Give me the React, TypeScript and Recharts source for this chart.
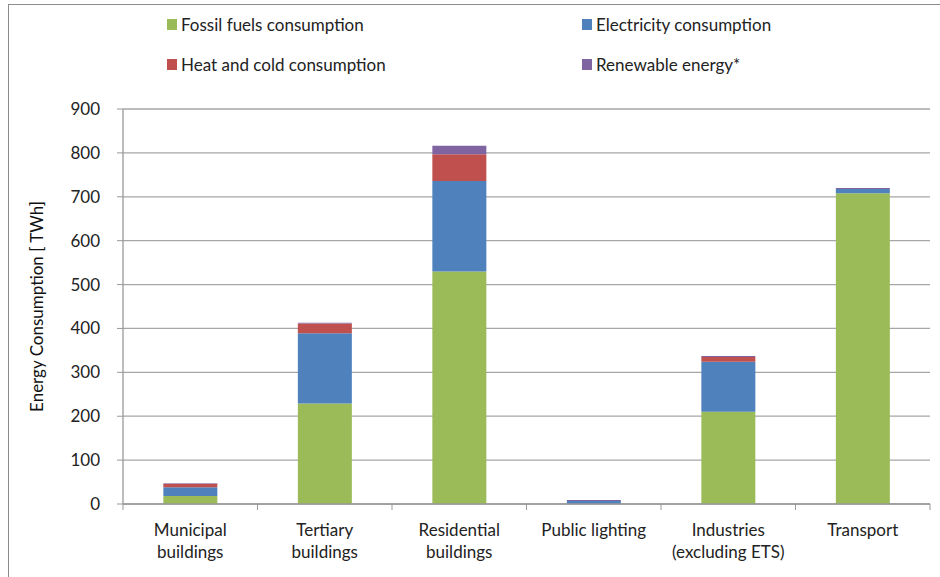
import React from "react";
import { BarChart, Bar, XAxis, YAxis, CartesianGrid } from "recharts";

const categories = [
  "Municipal\nbuildings",
  "Tertiary\nbuildings",
  "Residential\nbuildings",
  "Public lighting",
  "Industries\n(excluding ETS)",
  "Transport",
];
const fossil = [18, 229, 530, 0, 210, 708];
const electricity = [20, 160, 206, 7, 114, 10];
const heatCold = [8, 22, 61, 0, 11, 0];
const renewable = [1, 2, 19, 2, 2, 2];
const yTicks = [0, 100, 200, 300, 400, 500, 600, 700, 800, 900];

const seriesInfo = [
  { key: "fossil", name: "Fossil fuels consumption", color: "#9BBB59" },
  { key: "electricity", name: "Electricity consumption", color: "#4F81BD" },
  { key: "heat", name: "Heat and cold consumption", color: "#C0504D" },
  { key: "renew", name: "Renewable energy*", color: "#8064A2" },
];

const data = categories.map((c, i) => ({
  category: c,
  fossil: fossil[i],
  electricity: electricity[i],
  heat: heatCold[i],
  renew: renewable[i],
}));

const FONT = "Lato, 'Open Sans', sans-serif";
const W = 940;
const H = 577;
const PLOT_LEFT = 123;
const PLOT_RIGHT = 930;
const BAND = (PLOT_RIGHT - PLOT_LEFT) / categories.length;

const XTick = (props: any) => {
  const { x, y, payload, index } = props;
  const lines = String(payload.value).split("\n");
  return (
    <g>
      <line x1={x - BAND / 2} x2={x - BAND / 2} y1={y - 8} y2={y - 2} stroke="#999" />
      {index === categories.length - 1 && (
        <line x1={x + BAND / 2} x2={x + BAND / 2} y1={y - 8} y2={y - 2} stroke="#999" />
      )}
      <text x={x} y={y + 24} textAnchor="middle" fontSize={17} fill="#222" fontFamily={FONT}>
        {lines.map((l: string, i: number) => (
          <tspan key={i} x={x} dy={i === 0 ? 0 : 22}>
            {l}
          </tspan>
        ))}
      </text>
    </g>
  );
};

const legendPos = [
  { left: 167, top: 14 },
  { left: 582, top: 14 },
  { left: 167, top: 54 },
  { left: 582, top: 54 },
];

export default function App() {
  return (
    <div style={{ position: "absolute", left: 0, top: 0, width: W, height: H, background: "#fff", overflow: "hidden" }}>
      <div
        style={{
          position: "absolute",
          left: 8,
          top: 4,
          width: W,
          height: H,
          border: "1.5px solid #8c8c8c",
          boxSizing: "border-box",
        }}
      />
      {seriesInfo.map((s, i) => (
        <div
          key={s.key}
          style={{
            position: "absolute",
            left: legendPos[i].left,
            top: legendPos[i].top,
            display: "flex",
            alignItems: "center",
            fontFamily: FONT,
            fontSize: 17,
            color: "#222",
            whiteSpace: "nowrap",
            zIndex: 2,
          }}
        >
          <span style={{ display: "inline-block", width: 10, height: 11, background: s.color, marginRight: 4 }} />
          {s.name}
        </div>
      ))}
      <BarChart
        width={W}
        height={H}
        data={data}
        margin={{ top: 109, right: W - PLOT_RIGHT, bottom: 0, left: 0 }}
        barCategoryGap="30%"
        style={{ position: "absolute", left: 0, top: 0 }}
      >
        <CartesianGrid vertical={false} stroke="#A6A6A6" strokeWidth={1.3} />
        <XAxis
          dataKey="category"
          interval={0}
          tickLine={false}
          axisLine={{ stroke: "#999", strokeWidth: 1.3 }}
          tick={<XTick />}
          height={H - 504}
        />
        <YAxis
          width={PLOT_LEFT}
          domain={[0, 900]}
          ticks={yTicks}
          interval={0}
          tickSize={6}
          tickMargin={17}
          tickLine={{ stroke: "#999" }}
          axisLine={{ stroke: "#999", strokeWidth: 1.3 }}
          tick={{ fontSize: 17, fill: "#222", fontFamily: FONT }}
          label={{
            value: "Energy Consumption [ TWh]",
            angle: -90,
            position: "insideLeft",
            dx: 32,
            style: { textAnchor: "middle", fontSize: 17, fill: "#111", fontFamily: FONT },
          }}
        />
        {seriesInfo.map((s) => (
          <Bar key={s.key} dataKey={s.key} name={s.name} stackId="a" fill={s.color} isAnimationActive={false} />
        ))}
      </BarChart>
    </div>
  );
}
